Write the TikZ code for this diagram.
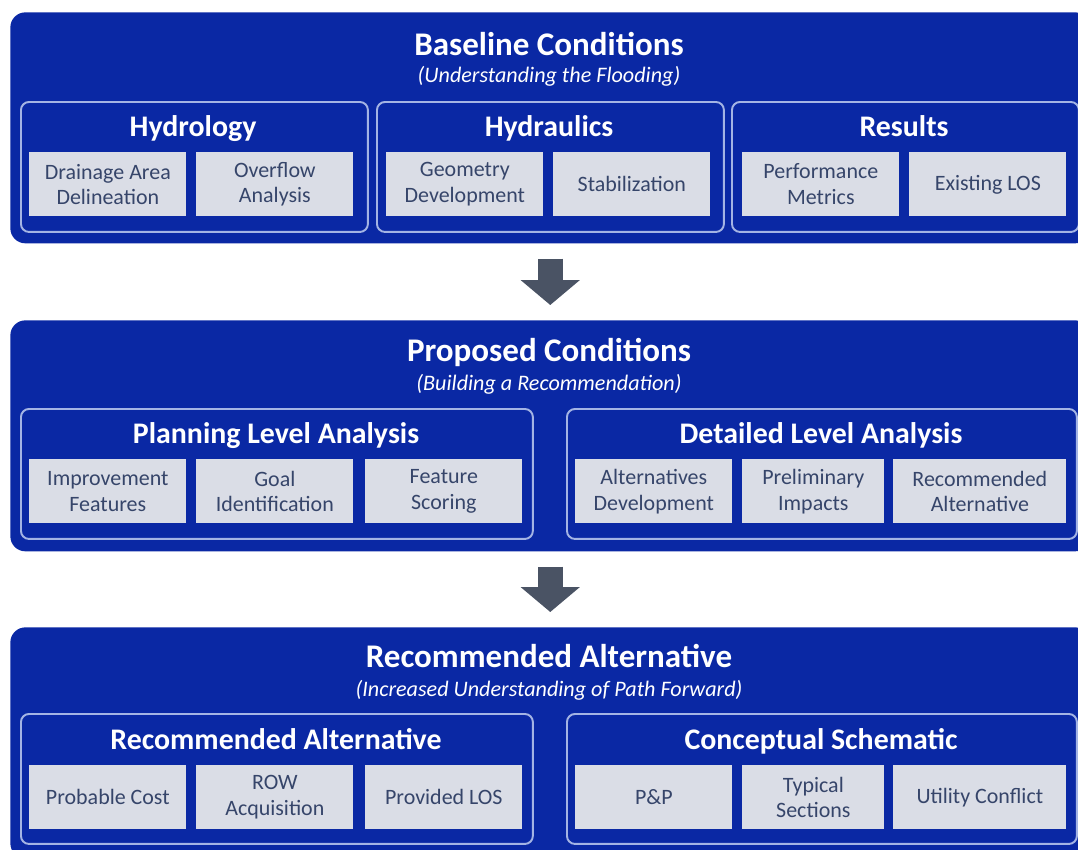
\documentclass[tikz,border=0pt]{standalone}
\usepackage{fontspec}
\setmainfont{Carlito}
\usetikzlibrary{arrows.meta}
\definecolor{panelblue}{HTML}{0A28A4}
\definecolor{boxgray}{HTML}{DADDE6}
\definecolor{boxtext}{HTML}{36456A}
\definecolor{rimblue}{HTML}{A4B4E4}
\definecolor{arrowgray}{HTML}{4A5364}

\tikzset{
  panel/.style={fill=panelblue, rounded corners=0.3cm, anchor=north west,
    minimum height=4.62cm, minimum width=21.6cm, inner sep=0},
  group/.style={draw=rimblue, line width=1.1pt, fill=panelblue, rounded corners=0.16cm,
    anchor=north west, minimum height=2.6cm, inner sep=0},
  item/.style={fill=boxgray, text=boxtext, anchor=north west, minimum height=1.28cm,
    minimum width=3.14cm, inner sep=0, align=center, font=\fontsize{12.5}{14.6}\selectfont},
  heading/.style={text=white, anchor=base, inner sep=0,
    font=\fontsize{18.8}{21}\selectfont\bfseries},
  subhead/.style={text=white, anchor=base, inner sep=0,
    font=\fontsize{12.6}{14}\selectfont\itshape},
  grouphead/.style={text=white, anchor=base, inner sep=0,
    font=\fontsize{17}{19}\selectfont\bfseries},
  flow/.style={-{Triangle[width=1.16cm,length=0.5cm]}, line width=0.5cm, arrowgray,
    shorten <=0.3cm, shorten >=0.3cm}
}

\begin{document}
\begin{tikzpicture}[x=0.02cm,y=-0.02cm]
    \useasboundingbox (0,0) rectangle (1078,849);
    \clip (0,0) rectangle (1078,849);

    % baseline
    \node[panel] at(10,12)(base){};
    \node[heading] at(549,55)(baset){Baseline Conditions};
    \node[subhead] at(549,82)(bases){(Understanding the Flooding)};
    \node[group,minimum width=6.94cm] at(20,101)(hydro){};
    \node[group,minimum width=6.94cm] at(376,101)(hydra){};
    \node[group,minimum width=6.94cm] at(731,101)(res){};
    \node[grouphead] at(193,136)(hydrot){Hydrology};
    \node[grouphead] at(549,136)(hydrat){Hydraulics};
    \node[grouphead] at(904,136)(rest){Results};
    \node[item] at(29,152)(drain){Drainage Area\\Delineation};
    \node[item] at(196,152)(over){Overflow\\Analysis};
    \node[item] at(386,152)(geom){Geometry\\Development};
    \node[item] at(553,152)(stab){Stabilization};
    \node[item] at(742,152)(perf){Performance\\Metrics};
    \node[item] at(909,152)(exist){Existing LOS};

    % proposed
    \node[panel] at(10,320)(prop){};
    \node[heading] at(549,361)(propt){Proposed Conditions};
    \node[subhead] at(549,390)(props){(Building a Recommendation)};
    \node[group,minimum width=10.24cm] at(20,408)(plan){};
    \node[group,minimum width=10.2cm] at(566,408)(detail){};
    \node[grouphead] at(276,443)(plant){Planning Level Analysis};
    \node[grouphead] at(821,443)(detailt){Detailed Level Analysis};
    \node[item] at(29,459)(impr){Improvement\\Features};
    \node[item] at(196,459)(goal){Goal\\Identification};
    \node[item] at(365,459)(feat){Feature\\Scoring};
    \node[item] at(575,459)(altdev){Alternatives\\Development};
    \node[item,minimum width=2.84cm] at(742,459)(prelim){Preliminary\\Impacts};
    \node[item,minimum width=3.46cm] at(893,459)(recom){Recommended\\Alternative};

    % recommended
    \node[panel] at(10,627)(reco){};
    \node[heading] at(549,667)(recot){Recommended Alternative};
    \node[subhead] at(549,696)(recos){(Increased Understanding of Path Forward)};
    \node[group,minimum width=10.24cm] at(20,713)(recalt){};
    \node[group,minimum width=10.2cm] at(566,713)(concept){};
    \node[grouphead] at(276,749)(recaltt){Recommended Alternative};
    \node[grouphead] at(821,749)(conceptt){Conceptual Schematic};
    \node[item] at(29,765)(cost){Probable Cost};
    \node[item] at(196,765)(row){ROW\\Acquisition};
    \node[item] at(365,765)(los){Provided LOS};
    \node[item] at(575,765)(pnp){P\&P};
    \node[item,minimum width=2.84cm] at(742,765)(typ){Typical\\Sections};
    \node[item,minimum width=3.46cm] at(893,765)(util){Utility Conflict};

    \draw[flow] (base.south) -- (prop.north);
    \draw[flow] (prop.south) -- (reco.north);
\end{tikzpicture}
\end{document}
